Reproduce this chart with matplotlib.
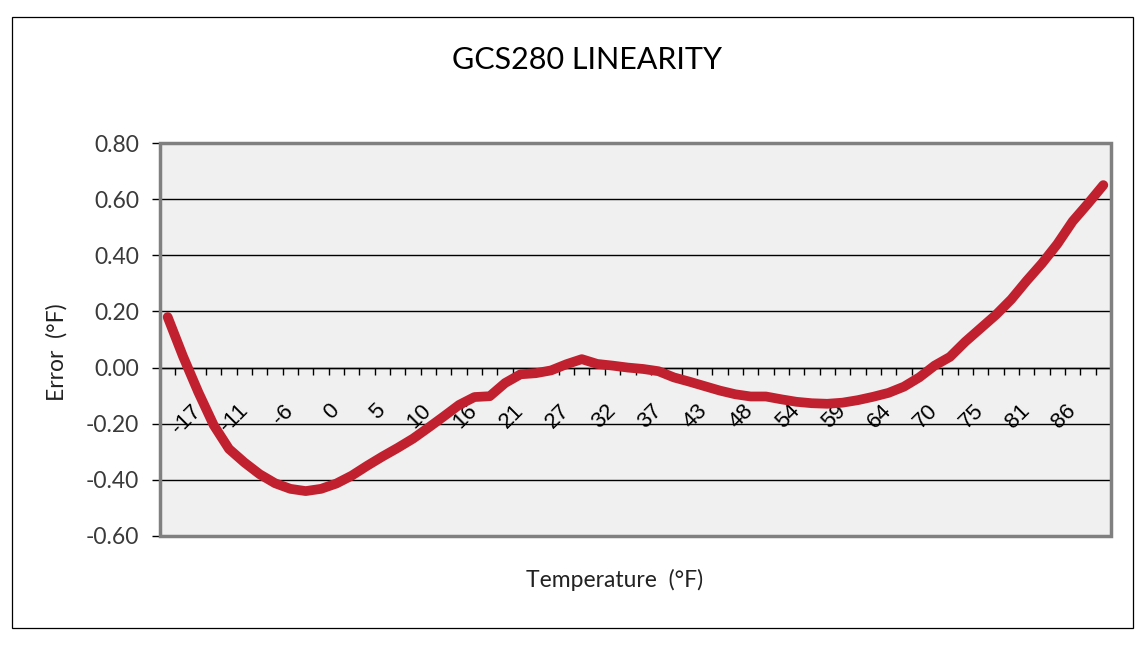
import numpy as np
import matplotlib
matplotlib.use("Agg")
import matplotlib.pyplot as plt
from matplotlib.patches import Rectangle

# ---- data ----
error_values = [
    0.18, 0.04, -0.088, -0.205, -0.29, -0.338, -0.38, -0.412, -0.432, -0.44,
    -0.432, -0.413, -0.385, -0.35, -0.317, -0.286, -0.253, -0.214, -0.174, -0.133,
    -0.105, -0.102, -0.055, -0.024, -0.02, -0.01, 0.012, 0.03, 0.013, 0.007,
    0.0, -0.005, -0.013, -0.035, -0.05, -0.066, -0.082, -0.095, -0.103, -0.103,
    -0.113, -0.122, -0.127, -0.129, -0.125, -0.116, -0.104, -0.09, -0.068, -0.035,
    0.007, 0.038, 0.092, 0.14, 0.188, 0.243, 0.309, 0.371, 0.44, 0.521,
    0.584, 0.65,
]
tick_labels = ["-17", "-11", "-6", "0", "5", "10", "16", "21", "27", "32",
               "37", "43", "48", "54", "59", "64", "70", "75", "81", "86"]
label_start = 2
label_step = 3
y_ticks = [-0.60, -0.40, -0.20, 0.00, 0.20, 0.40, 0.60, 0.80]

title = "GCS280 LINEARITY"
x_title = "Temperature  (°F)"
y_title = "Error  (°F)"

W, H = 1146, 645
fig = plt.figure(figsize=(W / 100, H / 100), dpi=100)
fig.patch.set_facecolor("white")

# outer frame
fig.add_artist(Rectangle((12 / W, 1 - 628 / H), (1133 - 12) / W, (628 - 17) / H,
                         transform=fig.transFigure, fill=False, ec="black", lw=0.9))

ax = fig.add_axes([160 / W, 1 - 536 / H, 951 / W, 393 / H])
ax.set_facecolor("#F0F0F0")

n = len(error_values)
x = np.arange(n)
ax.plot(x, error_values, color="#C1202F", lw=7, solid_capstyle="round",
        solid_joinstyle="round", zorder=4)

ax.set_xlim(-0.5, n - 0.5)
ax.set_ylim(-0.6, 0.8)

# y axis
ax.set_yticks(y_ticks)
ax.set_yticklabels([f"{v:.2f}" for v in y_ticks], fontsize=16.5, color="#3a3a3a",
                   family="Lato")
ax.tick_params(axis="y", direction="out", length=6, width=1, color="black", pad=9)
ax.yaxis.grid(True, color="black", lw=1)
ax.set_axisbelow(True)

# x axis on zero line
for s in ["top", "right", "left"]:
    ax.spines[s].set_visible(False)
ax.spines["bottom"].set_position(("data", 0))
ax.spines["bottom"].set_color("black")
ax.spines["bottom"].set_linewidth(1)
ax.spines["bottom"].set_zorder(2)

pos = [label_start + label_step * i for i in range(len(tick_labels))]
ax.set_xticks(pos)
ax.set_xticklabels(tick_labels, rotation=45, ha="right", va="center",
                   rotation_mode="anchor", fontsize=16, family="Liberation Sans",
                   color="black")
ax.tick_params(axis="x", which="major", length=0, pad=29)
ax.set_xticks(np.arange(-0.5, n + 0.5, 1.0)[1:], minor=True)
ax.tick_params(axis="x", which="minor", direction="out", length=5, width=1,
               color="black")

# gray plot-area border
ax.add_patch(Rectangle((0, 0), 1, 1, transform=ax.transAxes, fill=False,
                       ec="#808080", lw=2.5, zorder=3, clip_on=False))

fig.text(587 / W, 1 - 60 / H, title, ha="center", va="center", fontsize=22,
         family="Lato", color="black")
fig.text(615 / W, 1 - 580 / H, x_title, ha="center", va="center", fontsize=16.5,
         family="Lato", color="#222222")
fig.text(57 / W, 1 - 352 / H, y_title, ha="center", va="center", fontsize=16.5,
         rotation=90, family="Lato", color="#222222")

fig.savefig("out.png", dpi=100, facecolor="white")
